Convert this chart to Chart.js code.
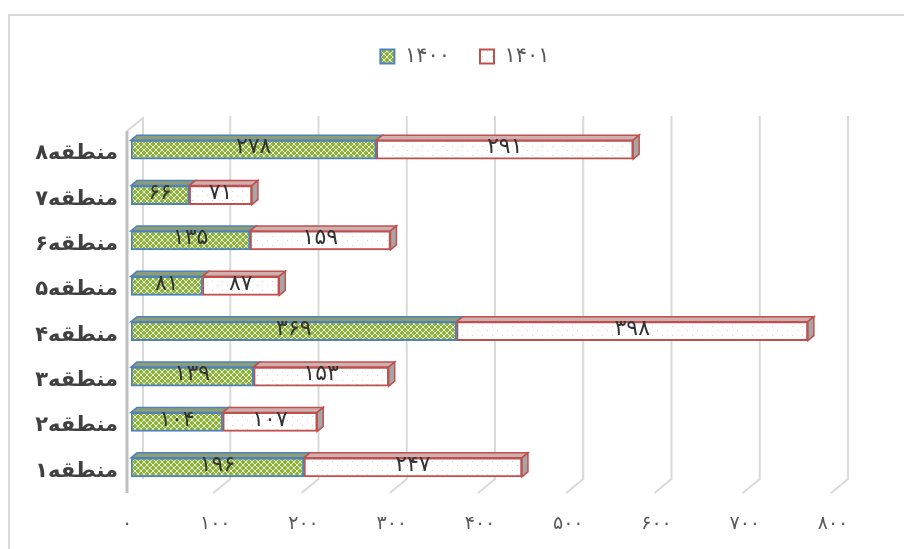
<!DOCTYPE html>
<html>
<head>
<meta charset="utf-8">
<script src="https://cdn.jsdelivr.net/npm/chart.js@4/dist/chart.umd.min.js"></script>
<style>
  body { margin: 0; background: #fff; overflow: hidden; }
  #frame { position: absolute; left: 8px; top: 14px; width: 1000px; height: 1000px;
           border-top: 2px solid #d9d9d9; border-left: 2px solid #d9d9d9; }
  #chart { position: absolute; left: 0; top: 0; }
</style>
</head>
<body>
<div id="frame"></div>
<canvas id="chart" width="904" height="549"></canvas>
<script>
// data
const regions = ["منطقه۱", "منطقه۲", "منطقه۳", "منطقه۴", "منطقه۵", "منطقه۶", "منطقه۷", "منطقه۸"];
const values1400 = [196, 104, 139, 369, 81, 135, 66, 278];
const values1401 = [247, 107, 153, 398, 87, 159, 71, 291];
const seriesNames = ["۱۴۰۰", "۱۴۰۱"];
const xTicks = [0, 100, 200, 300, 400, 500, 600, 700, 800];

const faDigits = n => String(n).replace(/\d/g, d => "۰۱۲۳۴۵۶۷۸۹"[d]);

// patterns
function greenPattern() {
  const c = document.createElement("canvas");
  c.width = 6; c.height = 6;
  const g = c.getContext("2d");
  g.fillStyle = "#8fb13f";
  g.fillRect(0, 0, 6, 6);
  g.strokeStyle = "#e4edcc";
  g.lineWidth = 1;
  g.beginPath();
  g.moveTo(0, 0); g.lineTo(6, 6);
  g.moveTo(6, 0); g.lineTo(0, 6);
  g.stroke();
  return g.createPattern(c, "repeat");
}
function dotPattern() {
  const c = document.createElement("canvas");
  c.width = 10; c.height = 9;
  const g = c.getContext("2d");
  g.fillStyle = "#ffffff";
  g.fillRect(0, 0, 10, 9);
  g.fillStyle = "#e6caca";
  g.fillRect(2, 2, 1, 1);
  g.fillRect(7, 6, 1, 1);
  return g.createPattern(c, "repeat");
}

const ctx = document.getElementById("chart").getContext("2d");
const greenFill = greenPattern();
const redFill = dotPattern();

// 3D decoration: walls, back gridlines, floor
const decor = {
  id: "decor",
  beforeDatasetsDraw(chart) {
    const a = chart.chartArea, xs = chart.scales.x, c = chart.ctx;
    c.save();
    c.strokeStyle = "#d9d9d9";
    c.lineWidth = 2;
    xTicks.forEach(v => {
      if (v === 0) return;
      const x = xs.getPixelForValue(v);
      c.beginPath();
      c.moveTo(x + 11, a.top - 11);
      c.lineTo(x + 11, a.bottom - 11);
      c.lineTo(x - 6, a.bottom + 3);
      c.stroke();
    });
    const x0 = xs.getPixelForValue(0);
    c.strokeStyle = "#d9d9d9";
    c.beginPath();
    c.moveTo(x0 + 12, a.bottom - 11);
    c.lineTo(x0 + 12, a.top - 9);
    c.lineTo(x0 - 4, a.top + 4);
    c.stroke();
    c.strokeStyle = "#bfbfbf";
    c.lineWidth = 3;
    c.beginPath();
    c.moveTo(x0 - 4, a.top + 4);
    c.lineTo(x0 - 4, a.bottom + 3);
    c.stroke();
    c.restore();
  },
  afterDatasetsDraw(chart) {
    const c = chart.ctx;
    const dx = 6, dy = 5;
    c.save();
    chart.data.datasets.forEach((ds, di) => {
      const meta = chart.getDatasetMeta(di);
      meta.data.forEach(el => {
        const x0 = Math.min(el.base, el.x), x1 = Math.max(el.base, el.x);
        const top = el.y - el.height / 2, bot = el.y + el.height / 2;
        c.lineWidth = 1.5;
        // top face
        c.beginPath();
        c.moveTo(x0, top); c.lineTo(x0 + dx, top - dy);
        c.lineTo(x1 + dx, top - dy); c.lineTo(x1, top); c.closePath();
        c.fillStyle = di === 0 ? "#8e9e74" : "#cfb0b0";
        c.fill();
        c.strokeStyle = di === 0 ? "#4f81bd" : "#c0504d";
        c.stroke();
        if (di === chart.data.datasets.length - 1) {
          c.beginPath();
          c.moveTo(x1, top); c.lineTo(x1 + dx, top - dy);
          c.lineTo(x1 + dx, bot - dy); c.lineTo(x1, bot); c.closePath();
          c.fillStyle = "#a6a6a6";
          c.fill();
          c.strokeStyle = "#c0504d";
          c.stroke();
        }
      });
    });
    // value labels
    c.fillStyle = "#333333";
    c.font = "22px 'DejaVu Sans'";
    c.textAlign = "center";
    c.textBaseline = "middle";
    chart.data.datasets.forEach((ds, di) => {
      chart.getDatasetMeta(di).data.forEach((el, i) => {
        c.fillText(faDigits(ds.data[i]), (el.x + el.base) / 2, el.y - 2);
      });
    });
    c.restore();
  }
};

// push plot area down below the legend
const legendSpace = {
  id: "legendSpace",
  beforeInit(chart) {
    const fit = chart.legend.fit;
    chart.legend.fit = function () {
      fit.bind(chart.legend)();
      this.height += 50;
    };
  }
};

new Chart(ctx, {
  type: "bar",
  data: {
    labels: regions,
    datasets: [
      {
        label: seriesNames[0],
        data: values1400,
        backgroundColor: greenFill,
        borderColor: "#4f81bd",
        borderWidth: 2,
        borderSkipped: false,
        barThickness: 19
      },
      {
        label: seriesNames[1],
        data: values1401,
        backgroundColor: redFill,
        borderColor: "#c0504d",
        borderWidth: 2,
        borderSkipped: false,
        barThickness: 19
      }
    ]
  },
  options: {
    indexAxis: "y",
    responsive: false,
    animation: false,
    layout: { padding: { top: 16, right: 0, bottom: 13, left: 26 } },
    plugins: {
      tooltip: { enabled: false },
      legend: {
        position: "top",
        labels: {
          boxWidth: 14,
          boxHeight: 14,
          padding: 30,
          color: "#595959",
          font: { family: "DejaVu Sans", size: 21 }
        }
      }
    },
    scales: {
      x: {
        stacked: true,
        min: 0,
        max: 800,
        grid: { display: false, drawTicks: false },
        border: { display: false },
        ticks: {
          stepSize: 100,
          padding: 23,
          labelOffset: -4,
          color: "#595959",
          font: { family: "DejaVu Sans", size: 19 },
          callback: v => faDigits(v)
        },
        afterBuildTicks: s => { s.ticks = xTicks.map(v => ({ value: v })); },
        afterFit: s => { s.height = 46; }
      },
      y: {
        stacked: true,
        reverse: true,
        grid: { display: false, drawTicks: false },
        border: { display: false },
        ticks: {
          padding: 13,
          labelOffset: 4,
          color: "#404040",
          font: { family: "DejaVu Sans", size: 21, weight: "bold" }
        },
        afterFit: s => { s.width = 105; }
      },
      yRight: {
        type: "linear",
        position: "right",
        grid: { display: false, drawTicks: false },
        border: { display: false },
        ticks: { display: false },
        afterFit: s => { s.width = 67; }
      }
    }
  },
  plugins: [decor, legendSpace]
});
</script>
</body>
</html>
